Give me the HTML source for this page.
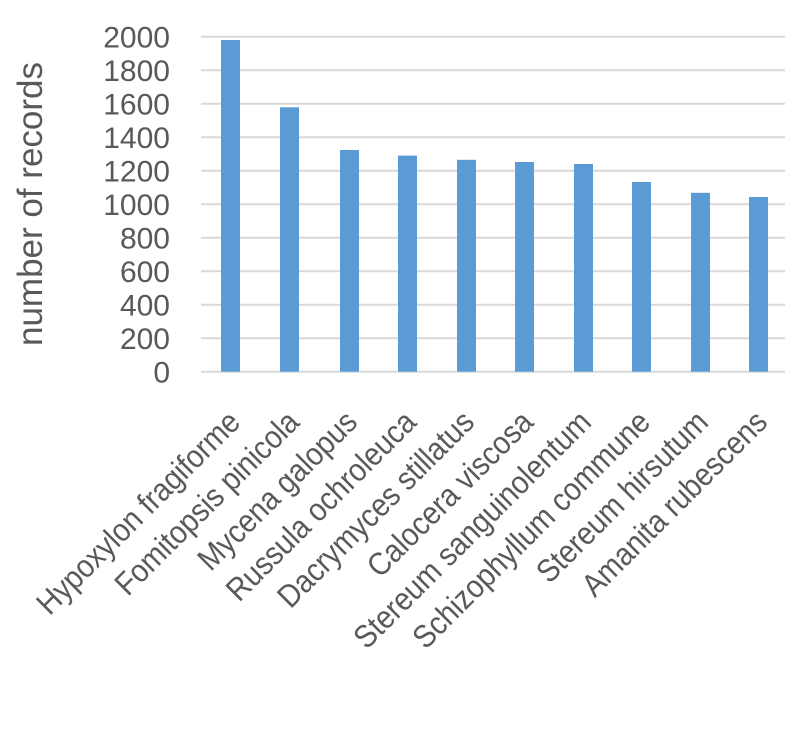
<!DOCTYPE html>
<html><head><style>body{margin:0;background:#fff}</style></head><body>
<svg width="794" height="727" xmlns="http://www.w3.org/2000/svg" font-family="Liberation Sans, sans-serif" fill="#595959">
<g stroke="#d9d9d9" stroke-width="2">
<line x1="201" x2="785" y1="36.7" y2="36.7"/><line x1="201" x2="785" y1="70.2" y2="70.2"/><line x1="201" x2="785" y1="103.7" y2="103.7"/><line x1="201" x2="785" y1="137.2" y2="137.2"/><line x1="201" x2="785" y1="170.7" y2="170.7"/><line x1="201" x2="785" y1="204.2" y2="204.2"/><line x1="201" x2="785" y1="237.7" y2="237.7"/><line x1="201" x2="785" y1="271.2" y2="271.2"/><line x1="201" x2="785" y1="304.7" y2="304.7"/><line x1="201" x2="785" y1="338.2" y2="338.2"/><line x1="201" x2="785" y1="371.7" y2="371.7"/>
</g>
<g font-size="30" text-anchor="end">
<text x="170" y="47.5">2000</text><text x="170" y="81">1800</text><text x="170" y="114.5">1600</text><text x="170" y="148">1400</text><text x="170" y="181.5">1200</text><text x="170" y="215">1000</text><text x="170" y="248.5">800</text><text x="170" y="282">600</text><text x="170" y="315.5">400</text><text x="170" y="349">200</text><text x="170" y="382.5">0</text>
</g>
<text transform="translate(42,204) rotate(-90)" font-size="35" text-anchor="middle">number of records</text>
<g fill="#5b9bd5">
<rect x="221" y="40" width="19" height="331.7"/>
<rect x="280" y="107.3" width="19" height="264.4"/>
<rect x="340" y="150" width="19" height="221.7"/>
<rect x="398" y="155.6" width="19" height="216.1"/>
<rect x="457" y="159.8" width="19" height="211.9"/>
<rect x="515" y="162" width="19" height="209.7"/>
<rect x="574" y="164" width="19" height="207.7"/>
<rect x="632" y="182" width="19" height="189.7"/>
<rect x="691" y="192.8" width="19" height="178.9"/>
<rect x="749" y="197" width="19" height="174.7"/>
</g>
<g font-size="32" text-anchor="end">
<text transform="translate(242,424) rotate(-45) scale(0.9,1)">Hypoxylon fragiforme</text>
<text transform="translate(301,424) rotate(-45) scale(0.9,1)">Fomitopsis pinicola</text>
<text transform="translate(359,424) rotate(-45) scale(0.9,1)">Mycena galopus</text>
<text transform="translate(418,424) rotate(-45) scale(0.9,1)">Russula ochroleuca</text>
<text transform="translate(476,424) rotate(-45) scale(0.9,1)">Dacrymyces stillatus</text>
<text transform="translate(535,424) rotate(-45) scale(0.9,1)">Calocera viscosa</text>
<text transform="translate(593,424) rotate(-45) scale(0.9,1)">Stereum sanguinolentum</text>
<text transform="translate(652,424) rotate(-45) scale(0.9,1)">Schizophyllum commune</text>
<text transform="translate(710,424) rotate(-45) scale(0.9,1)">Stereum hirsutum</text>
<text transform="translate(769,424) rotate(-45) scale(0.9,1)">Amanita rubescens</text>
</g>
</svg>
</body></html>
